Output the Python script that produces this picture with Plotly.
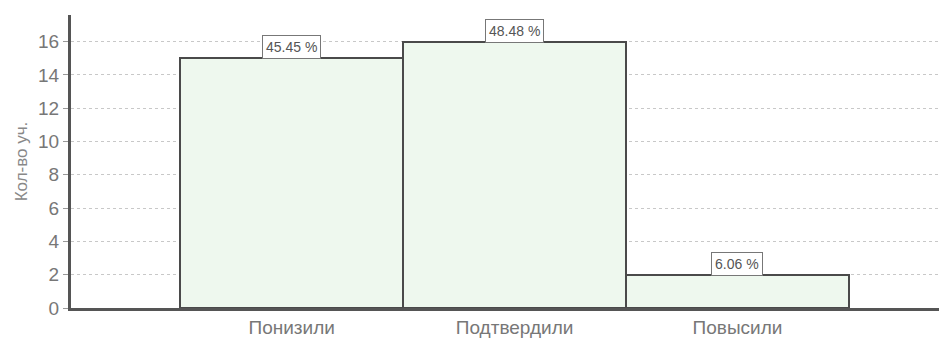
import plotly.graph_objects as go

# data
categories = ["Понизили", "Подтвердили", "Повысили"]
counts = [15, 16, 2]
pct_labels = ["45.45 %", "48.48 %", "6.06 %"]
y_ticks = [0, 2, 4, 6, 8, 10, 12, 14, 16]

xpos = list(range(len(categories)))

fig = go.Figure()
fig.add_trace(go.Bar(
    x=xpos,
    y=counts,
    width=1.0,
    marker=dict(color="#eef8ee", line=dict(color="#4a4a4a", width=2)),
    hoverinfo="skip",
))

# percent labels in little boxes on top of each bar
for x, y, t in zip(xpos, counts, pct_labels):
    fig.add_annotation(
        x=x, y=y, text=t, showarrow=False,
        yanchor="bottom", yshift=-1,
        font=dict(size=14, color="#555"),
        bgcolor="white", bordercolor="#777", borderwidth=1, borderpad=3,
    )

font_name = "Liberation Sans, Arial"

# page body has an 8px margin, so the figure is a bit smaller than the window
fig.update_layout(
    width=939, height=335,
    margin=dict(l=63, r=0, t=7, b=35),
    paper_bgcolor="white", plot_bgcolor="white",
    showlegend=False,
    bargap=0,
    font=dict(family=font_name, color="#666"),
)
fig.update_xaxes(
    range=[-0.99, 2.94],
    tickvals=xpos, ticktext=categories,
    tickfont=dict(size=19, color="#777"),
    showgrid=False, zeroline=False,
    showline=True, linecolor="#555", linewidth=3,
    ticks="", ticklen=0,
    automargin=False,
)
fig.update_yaxes(
    range=[0, 17.6],
    tickvals=y_ticks,
    tickfont=dict(size=19, color="#777"),
    showgrid=True, gridcolor="#c8c8c8", griddash="dot", gridwidth=1,
    zeroline=False,
    showline=True, linecolor="#555", linewidth=3,
    ticks="outside", ticklen=5, tickcolor="#999",
    title=dict(text="Кол-во уч.", font=dict(size=17, color="#888"), standoff=7),
    automargin=False,
)

fig.write_html("out.html")
